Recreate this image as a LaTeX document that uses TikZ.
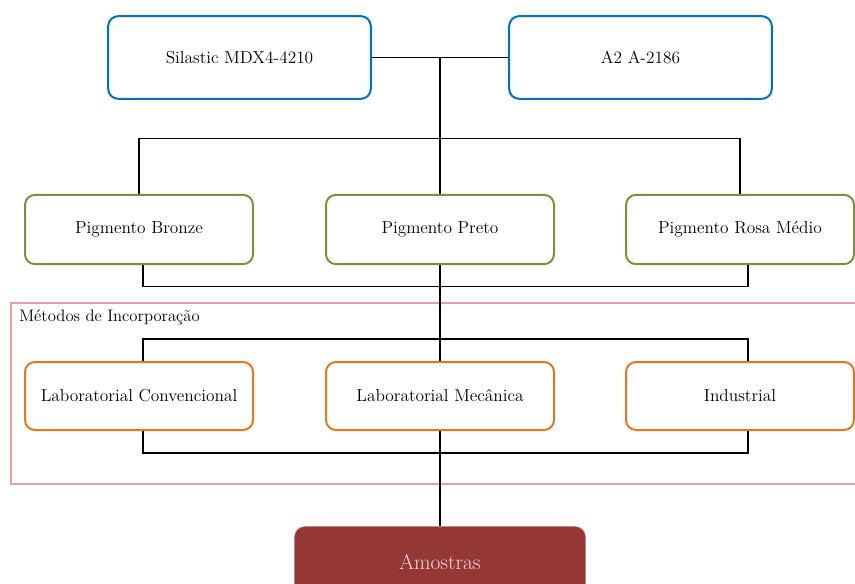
\documentclass[tikz,border=0pt]{standalone}
\usetikzlibrary{positioning,calc}

\definecolor{matblue}{HTML}{0070C0}
\definecolor{piggreen}{HTML}{77933C}
\definecolor{metorange}{HTML}{E8761E}
\definecolor{framepink}{HTML}{E0A3A2}
\definecolor{amored}{HTML}{953735}
\definecolor{amotext}{HTML}{F2DCDB}

\tikzset{
	box/.style={draw, rounded corners=7.5pt, line width=1.5pt, align=center, font=\fontsize{13}{15}\selectfont, fill=white},
	matbox/.style={box, draw=matblue, minimum width=197pt, minimum height=62pt},
	pigbox/.style={box, draw=piggreen, minimum width=171pt, minimum height=52pt},
	metbox/.style={box, draw=metorange, minimum width=171pt, minimum height=51pt},
	endbox/.style={draw=amored!70, fill=amored, text=amotext, rounded corners=7.5pt, minimum width=218pt, minimum height=53pt, font=\fontsize{16}{19}\selectfont},
	link/.style={draw, line width=0.8pt}
}

\begin{document}
\begin{tikzpicture}[x=0.75pt, y=-0.75pt]
	\useasboundingbox (0,0) rectangle (855,583);

	% frame of the methods
	\draw[framepink, line width=1.5pt] (11,303) rectangle (875,484);
	\node[anchor=west, inner sep=0pt, font=\fontsize{12.5}{15}\selectfont] (metlabel) at (19,317) {Métodos de Incorporação};

	% materials
	\node[matbox] (silastic) at (239.5,57.5) {Silastic MDX4-4210};
	\node[matbox] (a2) at (640.5,57.5) {A2 A-2186};

	% pigments
	\node[pigbox] (bronze) at (139,229.5) {Pigmento Bronze};
	\node[pigbox] (preto) at (440,229.5) {Pigmento Preto};
	\node[pigbox] (rosa) at (740,229.5) {Pigmento Rosa Médio};

	% methods
	\node[metbox] (conv) at (139,396) {Laboratorial Convencional};
	\node[metbox] (mec) at (440,396) {Laboratorial Mecânica};
	\node[metbox] (ind) at (740,396) {Industrial};

	% result
	\node[endbox] (amostras) at (440,562) {Amostras};

	\coordinate (top) at ($(silastic.east)!0.5!(a2.west)$);

	\draw[link] (silastic) -- (a2);
	\draw[link] (top) -- (preto.north);
	\draw[link] (bronze.north) -- ++(0,-55) -| (rosa.north);
	\draw[link] ([xshift=3pt]bronze.south) -- ++(0,21) -| ([xshift=6pt]rosa.south);
	\draw[link] (preto.south) -- (mec.north);
	\draw[link] ([xshift=3pt]conv.north) -- ++(0,-22) -| ([xshift=6pt]ind.north);
	\draw[link] ([xshift=3pt]conv.south) -- ++(0,22) -| ([xshift=6pt]ind.south);
	\draw[link] (mec.south) -- (amostras.north);
\end{tikzpicture}
\end{document}
